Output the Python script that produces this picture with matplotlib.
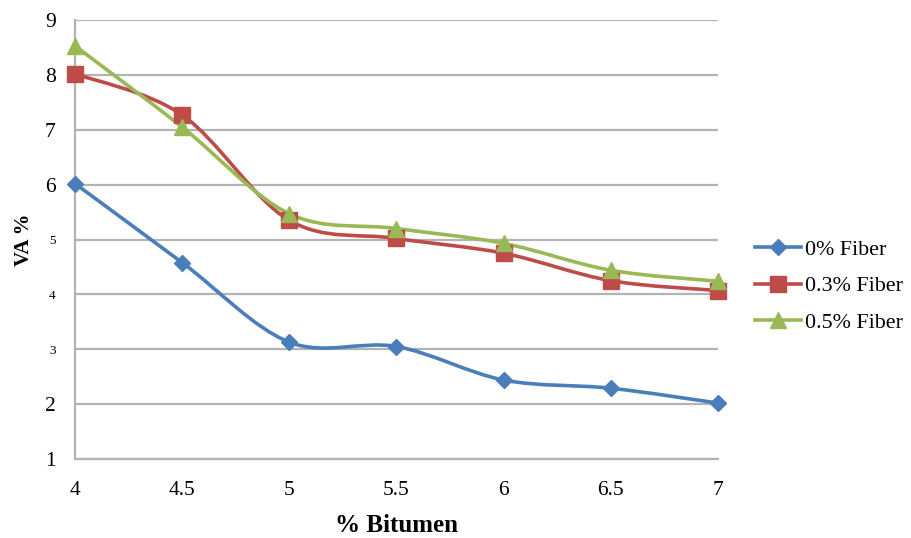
import numpy as np
import matplotlib
matplotlib.use('Agg')
import matplotlib.pyplot as plt
from matplotlib.path import Path
from matplotlib.patches import PathPatch
from matplotlib.lines import Line2D

bitumen = [4, 4.5, 5, 5.5, 6, 6.5, 7]
va_fiber_0 = [6.02, 4.58, 3.13, 3.05, 2.44, 2.29, 2.02]
va_fiber_03 = [8.02, 7.27, 5.35, 5.02, 4.75, 4.25, 4.07]
va_fiber_05 = [8.53, 7.05, 5.47, 5.20, 4.93, 4.44, 4.24]
series_labels = ['0% Fiber', '0.3% Fiber', '0.5% Fiber']
y_ticks = [1, 2, 3, 4, 5, 6, 7, 8, 9]
x_ticks = [4, 4.5, 5, 5.5, 6, 6.5, 7]

colors = ['#4a7ebb', '#be4b48', '#98b954']
markers = ['D', 's', '^']
msizes = [8, 11, 11]

plt.rcParams['font.family'] = ['Liberation Serif', 'DejaVu Serif']


def smooth_path(x, y):
    # cubic bezier through the points (spreadsheet-style smoothed line)
    pts = np.column_stack([x, y]).astype(float)
    n = len(pts)
    verts = [pts[0]]
    codes = [Path.MOVETO]
    for i in range(n - 1):
        p0 = pts[i - 1] if i > 0 else pts[i]
        p1 = pts[i]
        p2 = pts[i + 1]
        p3 = pts[i + 2] if i + 2 < n else pts[i + 1]
        c1 = p1 + (p2 - p0) / 6.0
        c2 = p2 - (p3 - p1) / 6.0
        verts += [c1, c2, p2]
        codes += [Path.CURVE4] * 3
    return Path(verts, codes)


fig = plt.figure(figsize=(9.12, 5.38), dpi=100)
ax = fig.add_axes([0.0822, 0.1468, 0.7050, 0.8160])

all_series = [va_fiber_0, va_fiber_03, va_fiber_05]
handles = []
for vals, c, m, ms, lab in zip(all_series, colors, markers, msizes, series_labels):
    ax.add_patch(PathPatch(smooth_path(bitumen, vals), facecolor='none',
                           edgecolor=c, lw=2.6, zorder=3, clip_on=False))
    ax.plot(bitumen, vals, linestyle='none', marker=m, markersize=ms,
            color=c, markeredgecolor=c, zorder=4, clip_on=False)
    handles.append(Line2D([], [], color=c, lw=2.6, marker=m, markersize=ms,
                          markeredgecolor=c, label=lab))

ax.set_xlim(4, 7)
ax.set_ylim(1, 9)
ax.set_xticks(x_ticks)
ax.set_xticklabels([f'{v:g}' for v in x_ticks])
ax.set_yticks(y_ticks)
ax.set_yticklabels([str(v) for v in y_ticks])
for lbl in ax.get_yticklabels():
    if lbl.get_text() in ('3', '4', '5'):
        lbl.set_fontsize(9.5)
    else:
        lbl.set_fontsize(15.5)
for lbl in ax.get_xticklabels():
    lbl.set_fontsize(15.5)

ax.tick_params(axis='both', length=0, colors='black')
ax.tick_params(axis='x', pad=16)
ax.tick_params(axis='y', pad=14)
ax.grid(axis='y', color='#b3b3b3', lw=1.6)
ax.set_axisbelow(True)
for side in ('top', 'right'):
    ax.spines[side].set_visible(False)
for side in ('left', 'bottom'):
    ax.spines[side].set_color('#b3b3b3')
    ax.spines[side].set_linewidth(1.6)

ax.set_xlabel('% Bitumen', fontsize=18, fontweight='bold', labelpad=10)
ax.set_ylabel('VA %', fontsize=15, fontweight='bold', labelpad=8)

fig.legend(handles=handles, loc='center left', bbox_to_anchor=(0.806, 0.468),
           frameon=False, fontsize=15.8, handlelength=2.1, handletextpad=0.2,
           labelspacing=0.74)

fig.savefig('out.png', dpi=100, facecolor='white')
